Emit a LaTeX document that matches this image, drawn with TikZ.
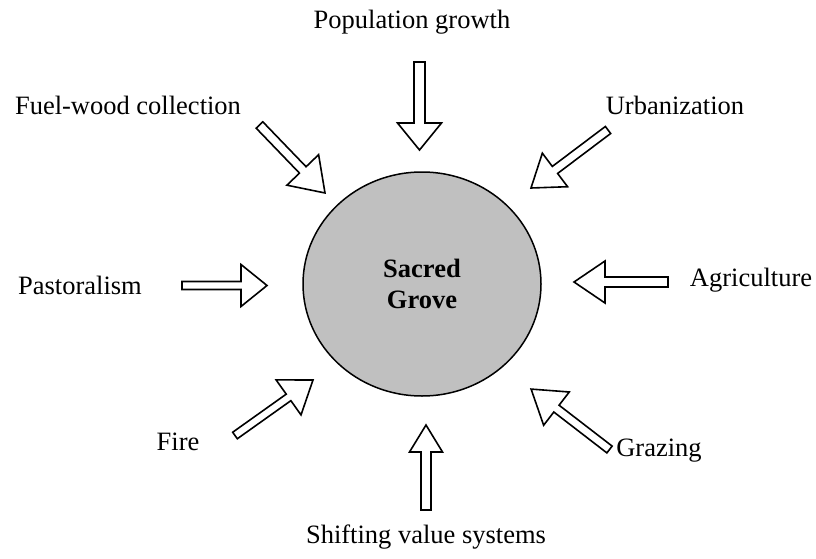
\documentclass[tikz,border=0pt]{standalone}
\usepackage{fontspec}
\setmainfont{Liberation Serif}
\usetikzlibrary{shapes.geometric}
\definecolor{grovegray}{RGB}{192,192,192}
\tikzset{
  label/.style={font=\fontsize{26.5}{30.5}\selectfont, inner sep=0pt, anchor=center},
  grove/.style={ellipse, draw, line width=1.5pt, fill=grovegray, minimum width=238pt, minimum height=224pt, inner sep=0pt, align=center, font=\fontsize{26.5}{30.5}\selectfont\bfseries},
  arrowbox/.style={draw, fill=white, line width=1.6pt, line join=miter}
}
% Block arrow from tail (#1,#2) to tip (#3,#4); shaft half-width #5, head half-width #6, head length #7
\newcommand\blockarrow[7]{%
  \begin{scope}[shift={(#1,#2)}, rotate={atan2(#2-#4,#3-#1)}]
    \pgfmathsetmacro\arrlen{veclen(#3-#1,#4-#2)}
    \draw[arrowbox] (0,-#5) -- (\arrlen-#7,-#5) -- (\arrlen-#7,-#6) -- (\arrlen,0)
      -- (\arrlen-#7,#6) -- (\arrlen-#7,#5) -- (0,#5) -- cycle;
  \end{scope}}
\begin{document}
\begin{tikzpicture}[x=1pt,y=-1pt]
  \useasboundingbox (0,0) rectangle (816,559);

  % central grove
  \node[grove] (grove) at (422,284) {Sacred\\Grove};

  % pressures
  \node[label] (pop)   at (412,22)  {Population growth};
  \node[label] (fuel)  at (128,105) {Fuel-wood collection};
  \node[label] (urb)   at (675,105) {Urbanization};
  \node[label] (past)  at (80,285)  {Pastoralism};
  \node[label] (agri)  at (751,280) {Agriculture};
  \node[label] (fire)  at (178,442) {Fire};
  \node[label] (graz)  at (659,451) {Grazing};
  \node[label] (shift) at (426,537) {Shifting value systems};

  % arrows pointing at the grove
  \blockarrow{419.5}{62}{419.5}{150}{5.5}{22}{27}
  \blockarrow{259.5}{125}{325}{193}{4.6}{22}{32}
  \blockarrow{608}{130}{531}{188}{4.4}{21}{30}
  \blockarrow{182}{285.5}{267}{285.5}{4}{21}{26}
  \blockarrow{668}{282}{574}{282}{5}{21}{31}
  \blockarrow{235}{435.5}{313}{380}{4}{21.5}{30}
  \blockarrow{609.5}{449.5}{531}{389}{4.3}{21}{32}
  \blockarrow{426}{510}{426}{425}{5}{16.5}{27}
\end{tikzpicture}
\end{document}
